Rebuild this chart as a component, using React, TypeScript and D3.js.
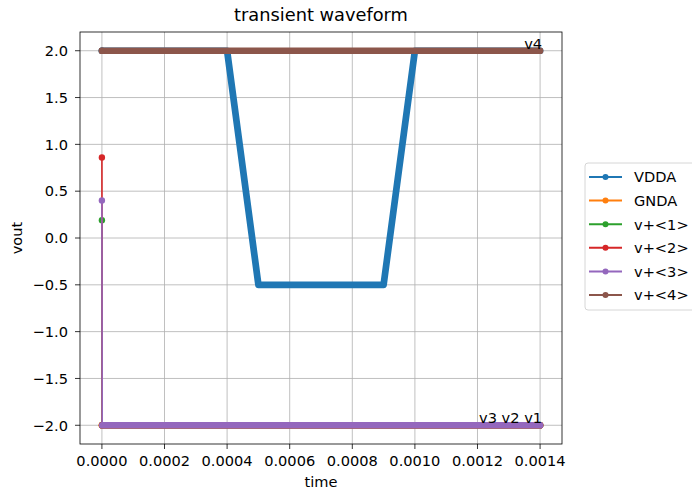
import React from "react";
import * as d3 from "d3";

// ---- data ----
const seriesNames = ["VDDA", "GNDA", "v+<1>", "v+<2>", "v+<3>", "v+<4>"];
const seriesColors = ["#1f77b4", "#ff7f0e", "#2ca02c", "#d62728", "#9467bd", "#8c564b"];

const vddaTime = [0, 0.0004, 0.0005, 0.0009, 0.001, 0.0014];
const vddaValue = [2.0, 2.0, -0.5, -0.5, 2.0, 2.0];

const gndaTime = [0, 0.0014];
const gndaValue = [-2.0, -2.0];

const v1Time = [0, 0.000001, 0.0014];
const v1Value = [0.19, -2.0, -2.0];

const v2Time = [0, 0.000001, 0.0014];
const v2Value = [0.86, -2.0, -2.0];

const v3Time = [0, 0.000001, 0.0014];
const v3Value = [0.4, -2.0, -2.0];

const v4Time = [0, 0.0014];
const v4Value = [2.0, 2.0];

const xTicks = [0, 0.0002, 0.0004, 0.0006, 0.0008, 0.001, 0.0012, 0.0014];
const yTicks = [-2.0, -1.5, -1.0, -0.5, 0.0, 0.5, 1.0, 1.5, 2.0];

const annotations = [
  { t: 0.0014, v: 2.0, text: "v4" },
  { t: 0.0014, v: -2.0, text: "v3 v2 v1" },
];

const allTimes = [vddaTime, gndaTime, v1Time, v2Time, v3Time, v4Time];
const allValues = [vddaValue, gndaValue, v1Value, v2Value, v3Value, v4Value];

const W = 692;
const H = 493;
const left = 80, right = 562, top = 32, bottom = 444;
const FONT = "DejaVu Sans, sans-serif";
const FS = 14.6;

export default function App() {
  const x = d3.scaleLinear().domain([-0.00007, 0.00147]).range([left, right]);
  const y = d3.scaleLinear().domain([-2.2, 2.2]).range([bottom, top]);

  const line = d3
    .line<[number, number]>()
    .x((d) => x(d[0]))
    .y((d) => y(d[1]));

  const series = seriesNames.map((name, i) => {
    const pts: [number, number][] = allTimes[i].map((t, j) => [t, allValues[i][j]]);
    // dense-sample band: segments whose horizontal pixel extent is noticeable
    const bands: [number, number][][] = [];
    let cur: [number, number][] = [];
    for (let j = 0; j < pts.length - 1; j++) {
      const dx = Math.abs(x(pts[j + 1][0]) - x(pts[j][0]));
      if (dx > 1) {
        if (cur.length === 0) cur.push(pts[j]);
        cur.push(pts[j + 1]);
      } else {
        if (cur.length) bands.push(cur);
        cur = [];
      }
    }
    if (cur.length) bands.push(cur);
    return { name, color: seriesColors[i], pts, bands };
  });

  const fmtX = (d: number) => d.toFixed(4);
  const fmtY = (d: number) => (d < 0 ? "\u2212" : "") + Math.abs(d).toFixed(1);

  const legendX = 585, legendTop = 163, legendBottom = 310;
  const rowY0 = 177, rowStep = 23.6;

  return (
    <svg
      width={W}
      height={H}
      style={{ position: "absolute", left: 0, top: 0, background: "#fff" }}
      fontFamily={FONT}
    >
      <rect x={0} y={0} width={W} height={H} fill="#fff" />
      {/* grid */}
      {xTicks.map((t) => (
        <line key={"gx" + t} x1={x(t)} x2={x(t)} y1={top} y2={bottom} stroke="#b0b0b0" strokeWidth={0.8} />
      ))}
      {yTicks.map((v) => (
        <line key={"gy" + v} x1={left} x2={right} y1={y(v)} y2={y(v)} stroke="#b0b0b0" strokeWidth={0.8} />
      ))}

      {/* series */}
      <g>
        {series.map((s) => (
          <g key={s.name}>
            <path d={line(s.pts) || ""} fill="none" stroke={s.color} strokeWidth={1.6} />
            {s.bands.map((b, k) => (
              <path
                key={k}
                d={line(b) || ""}
                fill="none"
                stroke={s.color}
                strokeWidth={6.7}
                strokeLinecap="round"
                strokeLinejoin="round"
              />
            ))}
            <circle cx={x(s.pts[0][0])} cy={y(s.pts[0][1])} r={3.2} fill={s.color} />
          </g>
        ))}
      </g>

      {/* annotations */}
      {annotations.map((a) => (
        <text key={a.text} x={x(a.t) + 2} y={y(a.v) - 2} textAnchor="end" fontSize={FS} fill="#000">
          {a.text}
        </text>
      ))}

      {/* spines */}
      <rect x={left} y={top} width={right - left} height={bottom - top} fill="none" stroke="#000" strokeWidth={0.8} />

      {/* x ticks */}
      {xTicks.map((t) => (
        <g key={"xt" + t}>
          <line x1={x(t)} x2={x(t)} y1={bottom} y2={bottom + 5} stroke="#000" strokeWidth={0.8} />
          <text x={x(t)} y={bottom + 21.5} textAnchor="middle" fontSize={FS} fill="#000">
            {fmtX(t)}
          </text>
        </g>
      ))}
      {/* y ticks */}
      {yTicks.map((v) => (
        <g key={"yt" + v}>
          <line x1={left - 5} x2={left} y1={y(v)} y2={y(v)} stroke="#000" strokeWidth={0.8} />
          <text x={68} y={y(v) + 5.3} textAnchor="end" fontSize={FS} fill="#000">
            {fmtY(v)}
          </text>
        </g>
      ))}

      {/* labels */}
      <text x={(left + right) / 2} y={21} textAnchor="middle" fontSize={17.8} fill="#000">
        transient waveform
      </text>
      <text x={(left + right) / 2} y={487} textAnchor="middle" fontSize={FS} fill="#000">
        time
      </text>
      <text
        transform={`translate(21.5,${(top + bottom) / 2}) rotate(-90)`}
        textAnchor="middle"
        fontSize={FS}
        fill="#000"
      >
        vout
      </text>

      {/* legend */}
      <rect
        x={legendX}
        y={legendTop}
        width={W - legendX + 10}
        height={legendBottom - legendTop}
        rx={3}
        fill="#fff"
        fillOpacity={0.8}
        stroke="#cccccc"
        strokeWidth={0.8}
      />
      {series.map((s, i) => {
        const yy = rowY0 + i * rowStep;
        return (
          <g key={"lg" + s.name}>
            <line x1={589} x2={622} y1={yy} y2={yy} stroke={s.color} strokeWidth={2} />
            <circle cx={605.5} cy={yy} r={3} fill={s.color} />
            <text x={634} y={yy + 5.3} fontSize={FS} fill="#000">
              {s.name}
            </text>
          </g>
        );
      })}
    </svg>
  );
}
